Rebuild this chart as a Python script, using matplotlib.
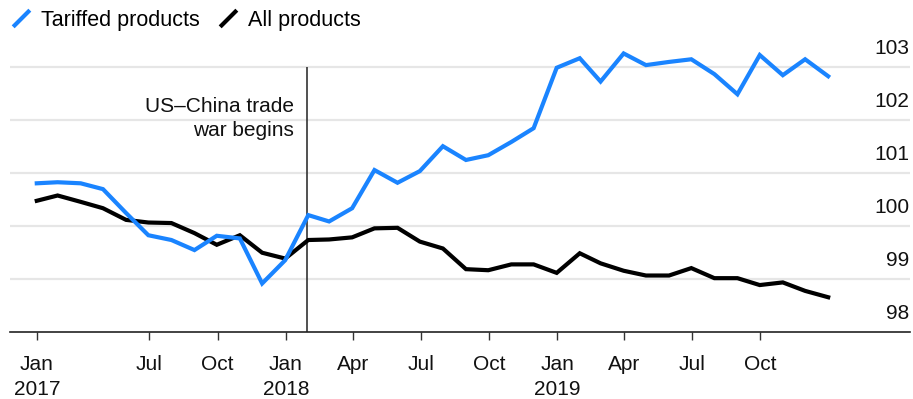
import matplotlib

matplotlib.use("Agg")
from matplotlib import pyplot as plt
from matplotlib import transforms
from matplotlib.lines import Line2D
import matplotlib.dates as mdates
import pandas as pd

# Monthly price indexes, Jan 2017 - Dec 2019 (stamped at month end)
months = pd.date_range("2017-01-31", periods=36, freq="ME")
tariffed_products = [
    100.80, 100.82, 100.80, 100.69, 100.24, 99.82, 99.73, 99.54, 99.81, 99.76, 98.91, 99.35,
    100.20, 100.08, 100.33, 101.05, 100.81, 101.03, 101.50, 101.24, 101.33, 101.58, 101.84, 102.98,
    103.16, 102.72, 103.25, 103.03, 103.09, 103.14, 102.86, 102.48, 103.22, 102.84, 103.14, 102.82,
]
all_products = [
    100.47, 100.57, 100.45, 100.33, 100.11, 100.06, 100.05, 99.86, 99.64, 99.82, 99.49, 99.38,
    99.73, 99.74, 99.78, 99.95, 99.96, 99.70, 99.57, 99.18, 99.16, 99.27, 99.27, 99.11,
    99.48, 99.29, 99.15, 99.06, 99.06, 99.20, 99.01, 99.01, 98.88, 98.93, 98.77, 98.65,
]

tick_dates = [
    "2017-01-31", "2017-07-01", "2017-10-01", "2018-01-01", "2018-04-01", "2018-07-01",
    "2018-10-01", "2019-01-01", "2019-04-01", "2019-07-01", "2019-10-01",
]
tick_labels = ["Jan\n2017", "Jul", "Oct", "Jan\n2018", "Apr", "Jul", "Oct", "Jan\n2019", "Apr", "Jul", "Oct"]
y_ticks = [98, 99, 100, 101, 102, 103]

trade_war_start = "2018-01-29"
trade_war_label = "US\u2013China trade\nwar begins"

BLUE = "#1a84ff"
BLACK = "#000000"
GRID = "#e6e6e6"
FONT = "Liberation Sans"
SIZE = 15


def draw_chart(ax):
    ax.set_xlim(pd.Timestamp("2016-12-26"), pd.Timestamp("2020-04-19"))
    ax.set_ylim(98, 103.5)

    for v in y_ticks[1:]:
        ax.axhline(v, color=GRID, lw=1.6, zorder=0)

    ax.plot(months, all_products, color=BLACK, lw=3, solid_joinstyle="miter", zorder=3)
    ax.plot(months, tariffed_products, color=BLUE, lw=3, solid_joinstyle="miter", zorder=4)

    # event marker; the label's last line sits on 101.7
    ax.vlines(pd.Timestamp(trade_war_start), 98, 103, color="#333333", lw=1.2, zorder=2)
    shift_left = transforms.offset_copy(ax.transData, fig=ax.figure, x=-13, y=0, units="dots")
    ax.text(
        pd.Timestamp(trade_war_start), 101.70, trade_war_label,
        transform=shift_left, ha="right", va="baseline",
        fontsize=SIZE, family=FONT, linespacing=1.3, color="#111111",
    )

    # value labels sit just above their gridlines, flush right
    label_trans = transforms.offset_copy(
        transforms.blended_transform_factory(ax.transAxes, ax.transData),
        fig=ax.figure, x=-1, y=13, units="dots",
    )
    for v in y_ticks:
        ax.text(1, v, str(v), transform=label_trans, ha="right", va="baseline",
                fontsize=SIZE, family=FONT, color="#111111")

    for side in ["left", "top", "right"]:
        ax.spines[side].set_visible(False)
    ax.spines["bottom"].set_color("#222222")
    ax.spines["bottom"].set_linewidth(1.2)

    ax.set_yticks([])
    ax.set_xticks([mdates.date2num(pd.Timestamp(d)) for d in tick_dates])
    ax.set_xticklabels(tick_labels)
    ax.tick_params(axis="x", length=5.5, width=1, color="#333333", pad=11,
                   labelsize=SIZE, labelcolor="#111111")
    for label in ax.get_xticklabels():
        label.set_family(FONT)
        label.set_linespacing(1.45)


def draw_legend(fig):
    slash = [(-0.5, -0.5), (0.5, 0.5)]
    handles = [
        Line2D([], [], color=BLUE, marker=slash, markersize=12, markeredgewidth=3, linestyle="none"),
        Line2D([], [], color=BLACK, marker=slash, markersize=12, markeredgewidth=3, linestyle="none"),
    ]
    fig.legend(
        handles, ["Tariffed products", "All products"],
        loc="upper left", bbox_to_anchor=(11 / 913, 1 - 10 / 399),
        ncol=2, frameon=False, borderpad=0, borderaxespad=0,
        handlelength=0.95, handletextpad=0.45, columnspacing=0.85,
        prop={"family": FONT, "size": 15.5},
    )


def main():
    fig = plt.figure(figsize=(9.13, 3.99), dpi=100)
    ax = fig.add_axes([10 / 913, (399 - 331.7) / 399, 900 / 913, 291.5 / 399])
    draw_chart(ax)
    draw_legend(fig)
    fig.savefig("out.png", dpi=100)


if __name__ == "__main__":
    main()
